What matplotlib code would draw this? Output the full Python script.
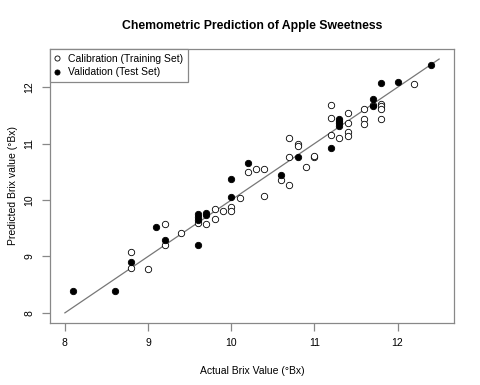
import numpy as np
import matplotlib
matplotlib.use('Agg')
import matplotlib.pyplot as plt

plt.rcParams['font.family'] = ['Liberation Sans', 'DejaVu Sans']

# calibration (training set), open circles
cal_actual = [8.8, 8.8, 9.0, 9.2, 9.2, 9.4, 9.6, 9.7, 9.8, 9.8, 9.9, 10.0, 10.0,
              10.1, 10.2, 10.3, 10.4, 10.4, 10.6, 10.7, 10.7, 10.7, 10.8, 10.8,
              10.9, 11.0, 11.0, 11.2, 11.2, 11.2, 11.3, 11.4, 11.4, 11.4, 11.4,
              11.6, 11.6, 11.6, 11.7, 11.8, 11.8, 11.8, 11.8, 12.2]
cal_pred = [9.08, 8.80, 8.77, 9.57, 9.21, 9.42, 9.59, 9.57, 9.85, 9.67, 9.81, 9.88, 9.81,
            10.03, 10.49, 10.55, 10.55, 10.07, 10.36, 11.10, 10.77, 10.27, 10.99, 10.96,
            10.58, 10.77, 10.78, 11.69, 11.46, 11.16, 11.10, 11.55, 11.36, 11.21, 11.14,
            11.61, 11.43, 11.35, 11.69, 11.70, 11.66, 11.62, 11.44, 12.06]

# validation (test set), filled circles
val_actual = [8.1, 8.6, 8.8, 9.1, 9.2, 9.6, 9.6, 9.6, 9.6, 9.7, 9.7, 10.0, 10.0,
              10.2, 10.6, 10.8, 11.2, 11.3, 11.3, 11.3, 11.3, 11.7, 11.7, 11.8,
              12.0, 12.4]
val_pred = [8.39, 8.39, 8.90, 9.52, 9.30, 9.76, 9.70, 9.65, 9.20, 9.77, 9.74, 10.38, 10.05,
            10.66, 10.45, 10.77, 10.92, 11.44, 11.40, 11.36, 11.31, 11.80, 11.66, 12.07,
            12.10, 12.39]

line_x = [8, 12.5]

fig = plt.figure(figsize=(4.8, 3.85), dpi=100)
ax = fig.add_axes([0.104, 0.161, 0.842, 0.712])

ax.plot(line_x, line_x, color='#777777', lw=0.9, zorder=1)
ax.plot(cal_actual, cal_pred, 'o', ms=4.6, mfc='white', mec='black', mew=0.6,
        label='Calibration (Training Set)', zorder=2)
ax.plot(val_actual, val_pred, 'o', ms=4.6, mfc='black', mec='black', mew=0.6,
        label='Validation (Test Set)', zorder=3)

pad = 0.04 * 4.5
ax.set_xlim(8 - pad, 12.5 + pad)
ax.set_ylim(8 - pad, 12.5 + pad)
ax.set_xticks([8, 9, 10, 11, 12])
ax.set_yticks([8, 9, 10, 11, 12])
ax.set_yticklabels(['8', '9', '10', '11', '12'], rotation=90, va='center')

for s in ax.spines.values():
    s.set_color('#888888')
    s.set_linewidth(0.9)
ax.tick_params(direction='out', length=6, width=0.9, color='#888888',
               labelsize=7.5, pad=5)

ax.set_xlabel('Actual Brix Value (°Bx)', fontsize=7.5, labelpad=13)
ax.set_ylabel('Predicted Brix value (°Bx)', fontsize=7.5, labelpad=4.5)
ax.set_title('Chemometric Prediction of Apple Sweetness', fontsize=8.8,
             fontweight='bold', pad=14.5)

leg = ax.legend(loc='upper left', bbox_to_anchor=(0, 1), borderaxespad=0,
                fontsize=7.5, fancybox=False, framealpha=1, edgecolor='#888888',
                handlelength=0.5, handletextpad=0.8, borderpad=0.45,
                labelspacing=0.35, markerscale=0.8)
leg.get_frame().set_linewidth(0.9)

fig.savefig('out.png', dpi=100)
